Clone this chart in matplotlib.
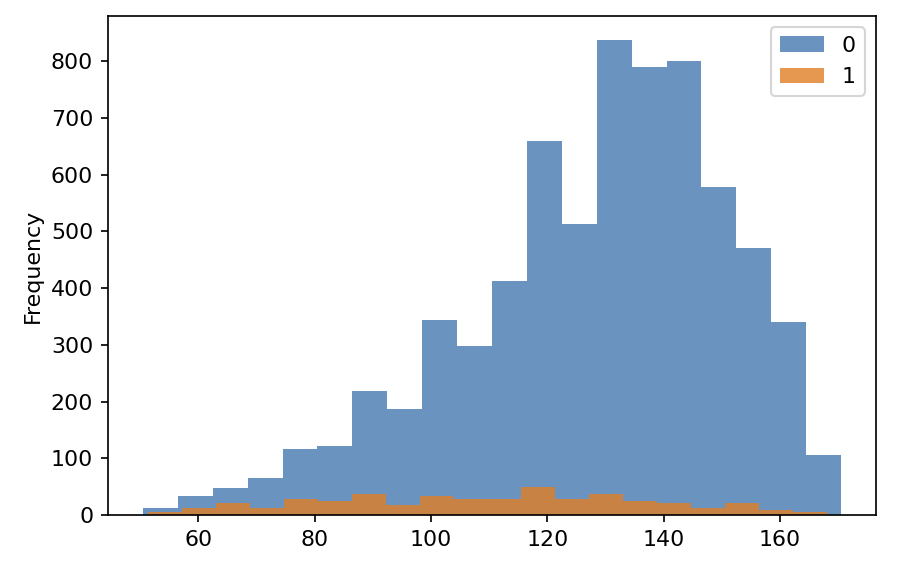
import numpy as np
import matplotlib.pyplot as plt

# counts per bin
counts_0 = [12, 33, 48, 65, 117, 122, 219, 187, 344, 298,
            413, 660, 514, 838, 790, 800, 579, 470, 341, 106]
counts_1 = [5, 13, 21, 13, 29, 25, 37, 17, 33, 28,
            28, 49, 28, 37, 25, 21, 13, 21, 9, 5]
range_0 = (50.5, 170.5)
range_1 = (51.4, 168.0)
labels = ['0', '1']

edges_0 = np.linspace(range_0[0], range_0[1], len(counts_0) + 1)
edges_1 = np.linspace(range_1[0], range_1[1], len(counts_1) + 1)

plt.rcParams['font.size'] = 10.5

fig = plt.figure(figsize=(914 / 152, 578 / 152), dpi=152)
ax = fig.add_axes([108 / 914, 1 - 515 / 578, (876 - 108) / 914, (515 - 16) / 578])

ax.hist(edges_0[:-1], bins=edges_0, weights=counts_0, alpha=0.8,
        color='#4678b0', label=labels[0])
ax.hist(edges_1[:-1], bins=edges_1, weights=counts_1, alpha=0.8,
        color='#e07e24', label=labels[1])

ax.set_ylabel('Frequency')
ax.set_yticks(np.arange(0, 900, 100))
ax.legend(loc='upper right')

fig.savefig('out.png', dpi=152)
